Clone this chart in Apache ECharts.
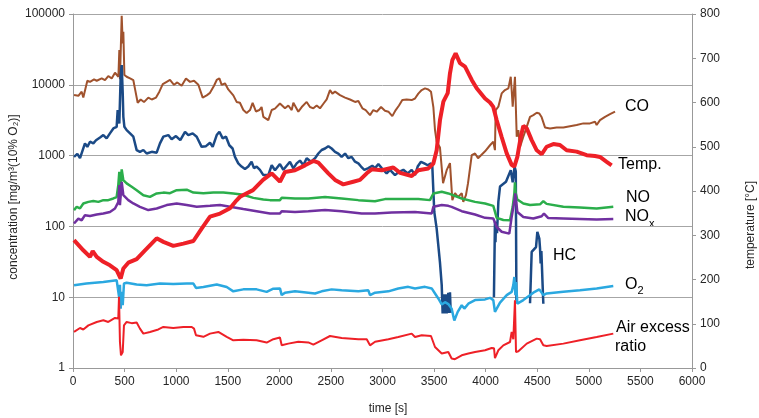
<!DOCTYPE html>
<html>
<head>
<meta charset="utf-8">
<script src="https://cdn.jsdelivr.net/npm/echarts@6/dist/echarts.min.js"></script>
<style>
html,body{margin:0;padding:0;background:#fff;}
#c{width:759px;height:418px;}
</style>
</head>
<body>
<div id="c"></div>
<script>
// ---- data: [time s, value] ----
const xTicks = [0,500,1000,1500,2000,2500,3000,3500,4000,4500,5000,5500,6000];
const leftTicks = [1,10,100,1000,10000,100000];
const rightTicks = [0,100,200,300,400,500,600,700,800];

const coData = [[10,7160],[52,7000],[84,8000],[100,6600],[139,11400],[165,11000],[204,11900],[230,11400],[278,12300],[310,11600],[342,13300],[375,12300],[407,14800],[420,15500],[440,13000],[449,31000],[455,12000],[472,94000],[482,38500],[488,56000],[498,13800],[520,13000],[553,12300],[585,11600],[600,8900],[627,5570],[656,6200],[688,5700],[730,6600],[763,6200],[805,6600],[837,8000],[870,10200],[908,11000],[940,11700],[979,10000],[1011,10800],[1053,9700],[1095,12300],[1134,11000],[1173,11400],[1215,10000],[1257,6600],[1296,7100],[1328,7700],[1367,9700],[1393,11700],[1419,12300],[1441,10000],[1473,10500],[1505,8600],[1554,7100],[1586,5730],[1618,5570],[1651,4400],[1683,4000],[1716,4400],[1741,5570],[1773,4200],[1806,4400],[1828,4850],[1845,3530],[1893,3170],[1926,4400],[1958,4600],[2006,5450],[2023,5730],[2055,4650],[2087,5100],[2120,4400],[2136,5570],[2184,4170],[2217,4850],[2265,5730],[2297,4850],[2330,4650],[2362,5100],[2394,4650],[2427,5400],[2459,6220],[2491,8430],[2514,7500],[2540,8000],[2588,7160],[2637,6600],[2685,6200],[2734,5730],[2766,5900],[2805,4650],[2837,4400],[2879,3730],[2911,4400],[2944,4170],[2986,4850],[3024,4300],[3057,4170],[3095,3610],[3128,4400],[3160,5100],[3192,6090],[3234,6200],[3283,6090],[3315,6400],[3347,7500],[3380,8430],[3412,8900],[3444,8600],[3470,8000],[3493,4850],[3509,2290],[3525,1570],[3557,1300],[3587,408],[3622,623],[3654,783],[3677,235],[3703,295],[3732,259],[3768,295],[3783,222],[3809,277],[3829,408],[3865,1016],[3897,1070],[3926,920],[3994,1150],[4042,1400],[4074,1566],[4090,1195],[4097,4400],[4123,4900],[4155,7560],[4187,8430],[4220,8900],[4243,13000],[4252,8430],[4262,4900],[4275,4650],[4284,13000],[4290,13000],[4301,1845],[4317,2290],[4333,1330],[4365,1845],[4398,2550],[4430,3530],[4462,3730],[4495,4030],[4520,3930],[4543,3470],[4575,2500],[4624,2420],[4688,2500],[4753,2500],[4817,2600],[4882,2700],[4947,2850],[5011,2850],[5060,3000],[5076,2700],[5108,3170],[5157,3530],[5205,3850],[5254,4170]];

const hcData = [[10,961],[42,1060],[68,920],[94,1195],[116,1486],[139,1330],[165,1570],[197,1490],[223,1650],[262,1800],[294,1950],[326,1750],[358,2060],[391,2420],[423,2550],[433,4400],[449,2840],[462,13000],[472,19000],[482,7500],[488,3530],[498,2550],[520,2290],[553,2060],[585,1850],[617,1195],[649,1130],[682,1200],[714,1070],[763,1130],[811,1100],[843,1490],[876,1850],[924,1950],[956,1700],[998,1890],[1040,1650],[1086,2170],[1118,1950],[1160,2060],[1199,1850],[1247,1330],[1289,1360],[1328,1520],[1354,1330],[1393,1950],[1419,2170],[1451,1750],[1483,1850],[1515,1400],[1547,1260],[1570,960],[1602,776],[1634,700],[1667,645],[1699,700],[1731,820],[1754,665],[1780,700],[1812,630],[1845,530],[1893,530],[1926,730],[1958,620],[2006,760],[2039,630],[2071,720],[2103,817],[2136,660],[2168,776],[2200,850],[2233,730],[2265,920],[2307,820],[2346,920],[2378,1070],[2410,1200],[2443,1260],[2475,1360],[2507,1260],[2540,1130],[2572,1070],[2604,960],[2637,1070],[2669,920],[2701,960],[2734,820],[2766,776],[2792,700],[2824,630],[2863,665],[2901,720],[2928,665],[2960,760],[2992,665],[3040,560],[3073,630],[3121,530],[3160,590],[3202,630],[3244,560],[3283,630],[3315,530],[3341,700],[3373,817],[3405,776],[3438,730],[3470,776],[3483,700],[3490,400],[3502,160],[3525,93],[3541,54],[3557,31],[3574,14.8],[3583,5.9],[3592,5.9],[3597,11],[3606,5.9],[3612,11],[3622,5.9],[3630,6],[3638,11.5],[3645,6],[3654,11.7],[3661,6],[3700,null],[4080,10],[4090,116],[4095,60],[4100,116],[4110,80],[4123,222],[4139,365],[4197,426],[4243,623],[4252,660],[4262,420],[4280,700],[4292,600],[4298,9],[4350,null],[4430,8.2],[4446,43.6],[4462,46],[4488,51],[4501,84],[4511,88],[4520,67],[4527,49],[4533,30],[4540,45],[4552,14.8],[4559,8.1]];

const noData = [[10,170],[36,189],[68,180],[100,211],[149,222],[197,228],[246,222],[294,235],[342,235],[391,248],[423,260],[439,383],[449,590],[455,250],[472,638],[488,450],[520,405],[569,363],[617,325],[682,276],[746,261],[811,292],[876,300],[940,295],[1005,325],[1102,330],[1167,300],[1264,295],[1360,300],[1457,300],[1554,292],[1651,280],[1748,253],[1845,240],[1909,235],[2006,235],[2023,253],[2152,248],[2281,248],[2443,261],[2604,248],[2766,235],[2927,227],[3024,243],[3186,243],[3347,243],[3460,235],[3477,236],[3493,292],[3574,308],[3638,292],[3654,298],[3768,248],[3897,222],[3994,211],[4074,195],[4107,132],[4171,123],[4236,122],[4262,189],[4278,292],[4284,420],[4290,300],[4307,240],[4365,211],[4430,200],[4527,205],[4559,227],[4591,208],[4753,189],[4914,185],[5076,179],[5237,189]];

const noxData = [[10,110],[52,129],[84,122],[116,144],[165,140],[230,147],[294,152],[358,160],[407,179],[439,220],[449,383],[455,200],[472,426],[488,276],[536,235],[585,211],[649,189],[730,170],[811,179],[908,200],[1005,211],[1102,200],[1199,189],[1328,195],[1425,200],[1522,189],[1651,176],[1780,164],[1909,152],[2006,152],[2023,164],[2152,160],[2281,164],[2443,170],[2604,164],[2798,152],[2927,152],[3089,157],[3315,160],[3477,152],[3493,189],[3574,200],[3638,195],[3670,189],[3768,164],[3897,147],[3994,132],[4074,129],[4107,98],[4155,84],[4229,79],[4252,136],[4280,235],[4287,292],[4307,160],[4365,136],[4462,129],[4543,139],[4565,152],[4607,131],[4753,129],[4914,127],[5076,125],[5237,127]];

const o2Data = [[10,14.8],[130,15.6],[294,16.4],[423,17.4],[440,17.2],[449,9.6],[455,15],[462,6.9],[472,11.9],[482,7.7],[494,15.6],[520,16],[617,15.1],[714,14.8],[843,15.6],[972,15.4],[1102,15.6],[1167,15.6],[1192,13.5],[1264,13.9],[1393,15.1],[1490,13.9],[1554,12.1],[1651,12.9],[1780,12.9],[1877,11.9],[1942,13.2],[2006,13.3],[2023,10.7],[2055,11.6],[2152,12.1],[2281,11.6],[2346,11.3],[2410,12.1],[2507,12.9],[2604,12.5],[2766,12.1],[2863,12.5],[2879,10.7],[2928,11.6],[3057,12.1],[3153,13.3],[3250,14],[3315,13.3],[3412,14],[3477,13.3],[3509,11.3],[3541,9.6],[3574,7.9],[3606,8.5],[3638,8],[3670,6.9],[3696,4.7],[3729,6.2],[3768,7.7],[3793,6.9],[3832,8.1],[3897,9.1],[3994,9.3],[4042,9.8],[4074,9.1],[4090,6.2],[4107,6.9],[4139,8.4],[4204,10.7],[4252,11.9],[4268,14.8],[4278,19.3],[4288,10.7],[4294,16.4],[4307,8.1],[4365,9.1],[4462,11.6],[4520,12.9],[4559,10.7],[4591,11.3],[4753,11.9],[4914,12.5],[5076,13.3],[5237,14.4]];

const lambdaData = [[10,3.23],[68,3.67],[100,3.5],[149,4.0],[230,4.47],[294,4.72],[342,4.47],[407,5.09],[439,5.0],[446,10.1],[455,2.33],[465,1.51],[472,1.6],[482,1.68],[494,4.0],[520,4.47],[569,4.3],[617,4.4],[649,3.6],[682,3.06],[746,3.23],[827,3.5],[876,3.8],[972,3.67],[1070,3.8],[1151,3.8],[1173,3.6],[1192,2.9],[1264,2.76],[1328,3.06],[1409,3.23],[1490,2.76],[1554,2.46],[1651,2.5],[1780,2.46],[1877,2.29],[1942,2.55],[2006,2.7],[2023,2.09],[2087,2.21],[2184,2.35],[2281,2.3],[2330,2.14],[2410,2.46],[2491,2.83],[2604,2.65],[2766,2.55],[2847,2.55],[2879,2.09],[2928,2.35],[3057,2.55],[3153,2.74],[3283,3.06],[3315,2.74],[3380,2.9],[3470,2.83],[3509,1.98],[3574,1.6],[3638,1.68],[3670,1.36],[3702,1.33],[3768,1.51],[3832,1.6],[3897,1.68],[3994,1.78],[4058,1.92],[4081,1.9],[4090,1.38],[4123,1.78],[4171,2.09],[4236,2.33],[4252,3.23],[4268,2.55],[4284,9.06],[4294,1.68],[4317,1.72],[4398,2.21],[4495,2.6],[4527,2.55],[4559,2.09],[4591,2.05],[4753,2.21],[4914,2.46],[5076,2.74],[5237,3.06]];

const tempData = [[10,289],[100,266],[165,251],[191,264],[230,251],[294,240],[358,232],[423,221],[462,202],[488,225],[536,238],[617,246],[698,266],[811,293],[876,285],[972,276],[1070,281],[1167,287],[1247,315],[1328,342],[1425,349],[1522,361],[1586,379],[1619,387],[1745,402],[1842,425],[1926,440],[1960,432],[2006,421],[2055,443],[2152,447],[2249,458],[2330,468],[2378,464],[2475,440],[2540,425],[2620,415],[2717,421],[2782,425],[2847,440],[2895,449],[2992,447],[3105,453],[3170,441],[3283,434],[3347,447],[3444,451],[3493,462],[3525,492],[3557,560],[3590,602],[3632,621],[3654,666],[3677,696],[3709,711],[3751,689],[3800,681],[3865,651],[3913,632],[3994,609],[4042,600],[4074,590],[4107,560],[4155,522],[4204,485],[4252,459],[4278,455],[4307,477],[4340,522],[4365,547],[4398,542],[4446,515],[4495,492],[4543,483],[4591,500],[4656,506],[4720,504],[4785,492],[4882,489],[4979,481],[5060,479],[5108,477],[5173,466],[5221,458]];

const seriesNames = ['CO','HC','NO','NOx','O2','Air excess ratio','Temp.'];
const seriesColors = ['#A0522D','#1B4A86','#2BAE4B','#7030A0','#2AA8E0','#EE2027','#EE2027'];

function prep(d){ return d.map(p => [p[0], p[1] === null ? '-' : p[1]]); }

const FONT = '"Liberation Sans", Arial, sans-serif';
const chart = echarts.init(document.getElementById('c'), null, {renderer:'canvas'});

function lineSeries(i, data, width, yIdx){
  return {
    name: seriesNames[i], type:'line', data: prep(data), yAxisIndex: yIdx||0,
    showSymbol:false, symbol:'none', connectNulls:false, smooth:false,
    lineStyle:{color:seriesColors[i], width:width}, itemStyle:{color:seriesColors[i]},
    emphasis:{disabled:true}, z: 2 + i
  };
}

const axisCol = '#999999';
const labelStyle = {fontFamily:FONT, fontSize:12, color:'#262626'};
const plainNum = function(v){ return String(Math.round(v)); };

chart.setOption({
  animation:false,
  backgroundColor:'#ffffff',
  grid:{left:73, right:67, top:14, bottom:50, containLabel:false},
  xAxis:{
    type:'value', min:xTicks[0], max:xTicks[xTicks.length-1], interval:500,
    axisLine:{lineStyle:{color:axisCol, width:1}},
    axisTick:{show:true, length:4, lineStyle:{color:axisCol}},
    axisLabel:Object.assign({margin:8, formatter:plainNum}, labelStyle),
    splitLine:{show:false}
  },
  yAxis:[
    {
      type:'log', logBase:10, min:leftTicks[0], max:leftTicks[leftTicks.length-1],
      position:'left',
      axisLine:{show:true, lineStyle:{color:axisCol, width:1}},
      axisTick:{show:true, length:4, lineStyle:{color:axisCol}},
      axisLabel:Object.assign({margin:8, formatter:plainNum}, labelStyle),
      splitLine:{show:true, lineStyle:{color:'#a6a6a6', width:1}},
      minorTick:{show:false}
    },
    {
      type:'value', min:rightTicks[0], max:rightTicks[rightTicks.length-1], interval:100,
      position:'right',
      axisLine:{show:true, lineStyle:{color:axisCol, width:1}},
      axisTick:{show:true, length:4, lineStyle:{color:axisCol}},
      axisLabel:Object.assign({margin:8, formatter:plainNum}, labelStyle),
      splitLine:{show:false}
    }
  ],
  series:[
    lineSeries(0, coData, 2),
    lineSeries(1, hcData, 2.5),
    lineSeries(2, noData, 2.5),
    lineSeries(3, noxData, 2.5),
    lineSeries(4, o2Data, 2.5),
    lineSeries(5, lambdaData, 2),
    lineSeries(6, tempData, 4, 1)
  ],
  graphic:[
    {type:'text', x:14, y:197, rotation:Math.PI/2, style:{text:'concentration [mg/m³(10% O₂)]', font:'12px '+FONT, fill:'#262626', textAlign:'center', textVerticalAlign:'middle'}},
    {type:'text', x:751, y:225, rotation:Math.PI/2, style:{text:'temperature [°C]', font:'12px '+FONT, fill:'#262626', textAlign:'center', textVerticalAlign:'middle'}},
    {type:'text', x:388, y:409, style:{text:'time [s]', font:'12px '+FONT, fill:'#262626', textAlign:'center', textVerticalAlign:'middle'}},
    {type:'text', x:625, y:107, style:{text:'CO', font:'16px '+FONT, fill:'#000', textAlign:'left', textVerticalAlign:'middle'}},
    {type:'text', x:618, y:165, style:{text:'Temp.', font:'16px '+FONT, fill:'#000', textAlign:'left', textVerticalAlign:'middle'}},
    {type:'text', x:626, y:198, style:{text:'NO', font:'16px '+FONT, fill:'#000', textAlign:'left', textVerticalAlign:'middle'}},
    {type:'text', x:625, y:217, style:{text:'NO', font:'16px '+FONT, fill:'#000', textAlign:'left', textVerticalAlign:'middle'}},
    {type:'text', x:649, y:224, style:{text:'x', font:'11px '+FONT, fill:'#000', textAlign:'left', textVerticalAlign:'middle'}},
    {type:'text', x:553, y:256, style:{text:'HC', font:'16px '+FONT, fill:'#000', textAlign:'left', textVerticalAlign:'middle'}},
    {type:'text', x:625, y:285, style:{text:'O', font:'16px '+FONT, fill:'#000', textAlign:'left', textVerticalAlign:'middle'}},
    {type:'text', x:637.5, y:291, style:{text:'2', font:'11px '+FONT, fill:'#000', textAlign:'left', textVerticalAlign:'middle'}},
    {type:'text', x:616, y:328, style:{text:'Air excess', font:'16px '+FONT, fill:'#000', textAlign:'left', textVerticalAlign:'middle'}},
    {type:'text', x:615, y:347, style:{text:'ratio', font:'16px '+FONT, fill:'#000', textAlign:'left', textVerticalAlign:'middle'}}
  ]
});
</script>
</body>
</html>
